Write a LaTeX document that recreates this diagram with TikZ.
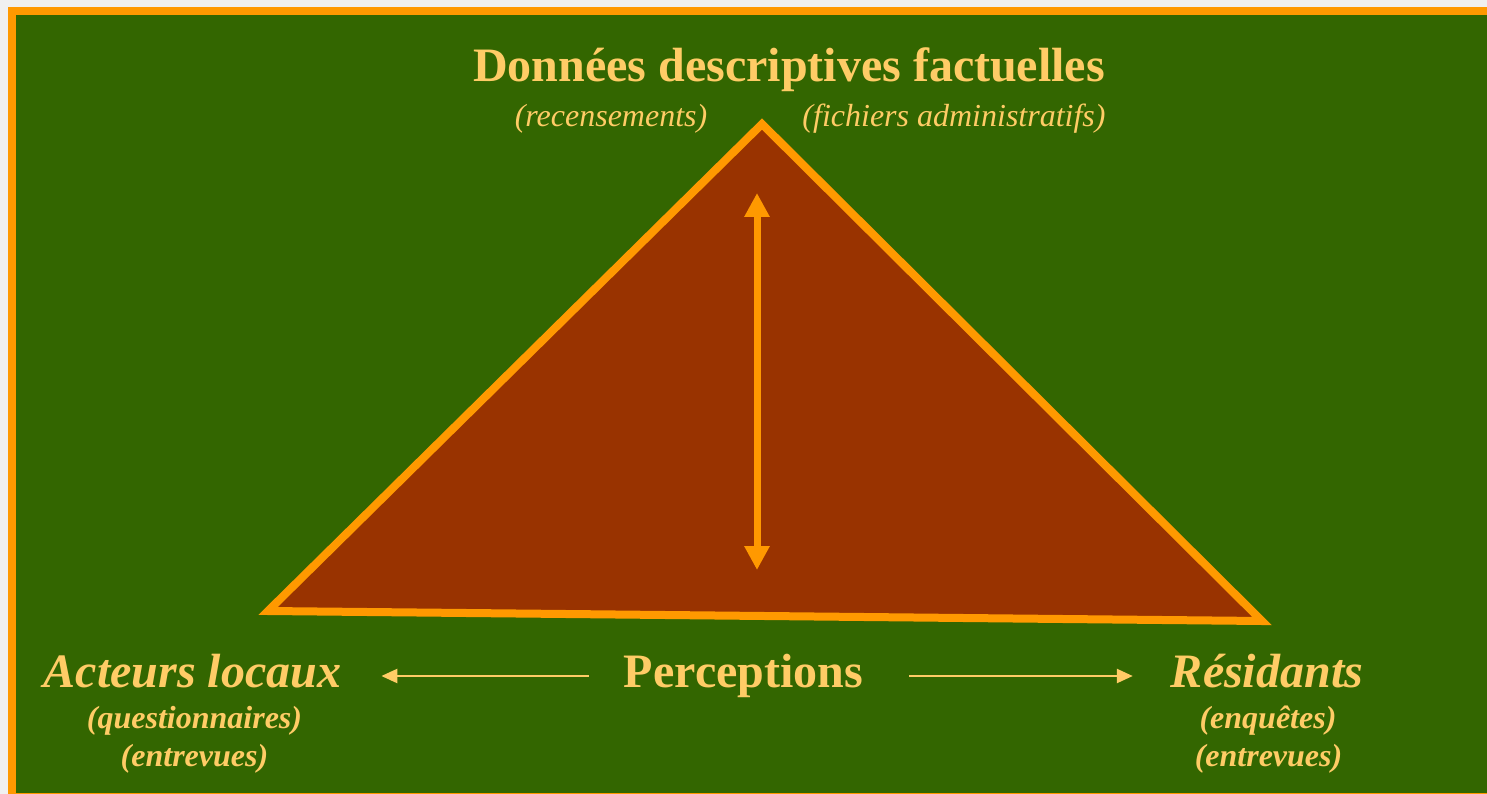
\documentclass[tikz,border=0pt]{standalone}
\usepackage{fontspec}
\setmainfont{Liberation Serif}
\usetikzlibrary{arrows.meta}
\definecolor{bggray}{HTML}{F0F0F0}
\definecolor{panelgreen}{HTML}{336600}
\definecolor{rimorange}{HTML}{FF9900}
\definecolor{pyrbrown}{HTML}{993300}
\definecolor{labelgold}{HTML}{FFCC66}
\tikzset{
  mainlbl/.style={text=labelgold, inner sep=0pt, anchor=base, font=\fontsize{48}{52}\selectfont\bfseries},
  mainit/.style={mainlbl, font=\fontsize{48}{52}\selectfont\bfseries\itshape},
  toplbl/.style={text=labelgold, inner sep=0pt, anchor=base, font=\fontsize{32}{36}\selectfont\itshape},
  sublbl/.style={text=labelgold, inner sep=0pt, anchor=base, font=\fontsize{32}{36}\selectfont\bfseries\itshape},
  pyramid/.style={draw=rimorange, fill=pyrbrown, line width=8pt, miter limit=20, line join=miter},
  vdouble/.style={draw=rimorange, line width=7pt, {Triangle[length=24pt,width=24pt]}-{Triangle[length=24pt,width=24pt]}},
  harrow/.style={draw=labelgold, line width=2.5pt, -{Triangle[length=16pt,width=14pt]}}
}
\begin{document}
\begin{tikzpicture}[x=1pt, y=-1pt]
\useasboundingbox (0,0) rectangle (1487,794);
\fill[bggray] (0,0) rectangle (1487,794);
\fill[rimorange] (8,7) rectangle (1500,810);
\fill[panelgreen] (16,15) rectangle (1500,793);
% pyramid
\coordinate (apex) at (762,124);
\coordinate (bl) at (268,611);
\coordinate (br) at (1262,621);
\draw[pyramid] (apex) -- (bl) -- (br) -- cycle;
\coordinate (vt) at (757,193);
\coordinate (vb) at (757,570);
\draw[vdouble] (vt) -- (vb);
% labels
\node[mainlbl] (donnees) at (789,82) {Données descriptives factuelles};
\node[toplbl] (recens) at (611,127) {(recensements)};
\node[toplbl] (fichiers) at (954,127) {(fichiers administratifs)};
\node[mainit] (act) at (192.5,687) {Acteurs locaux};
\node[sublbl] (quest) at (194.5,728) {(questionnaires)};
\node[sublbl] (entrA) at (194.5,766) {(entrevues)};
\node[mainlbl] (perc) at (743.5,687) {Perceptions};
\node[mainit] (resid) at (1267,687) {Résidants};
\node[sublbl] (enq) at (1268,728) {(enquêtes)};
\node[sublbl] (entrB) at (1268.5,766) {(entrevues)};
% arrows
\draw[harrow] ([shift={(-35,-11)}]perc.base west) -- ([shift={(40,-11)}]act.base east);
\draw[harrow] ([shift={(46,-11)}]perc.base east) -- ([shift={(-38,-11)}]resid.base west);
\end{tikzpicture}
\end{document}
